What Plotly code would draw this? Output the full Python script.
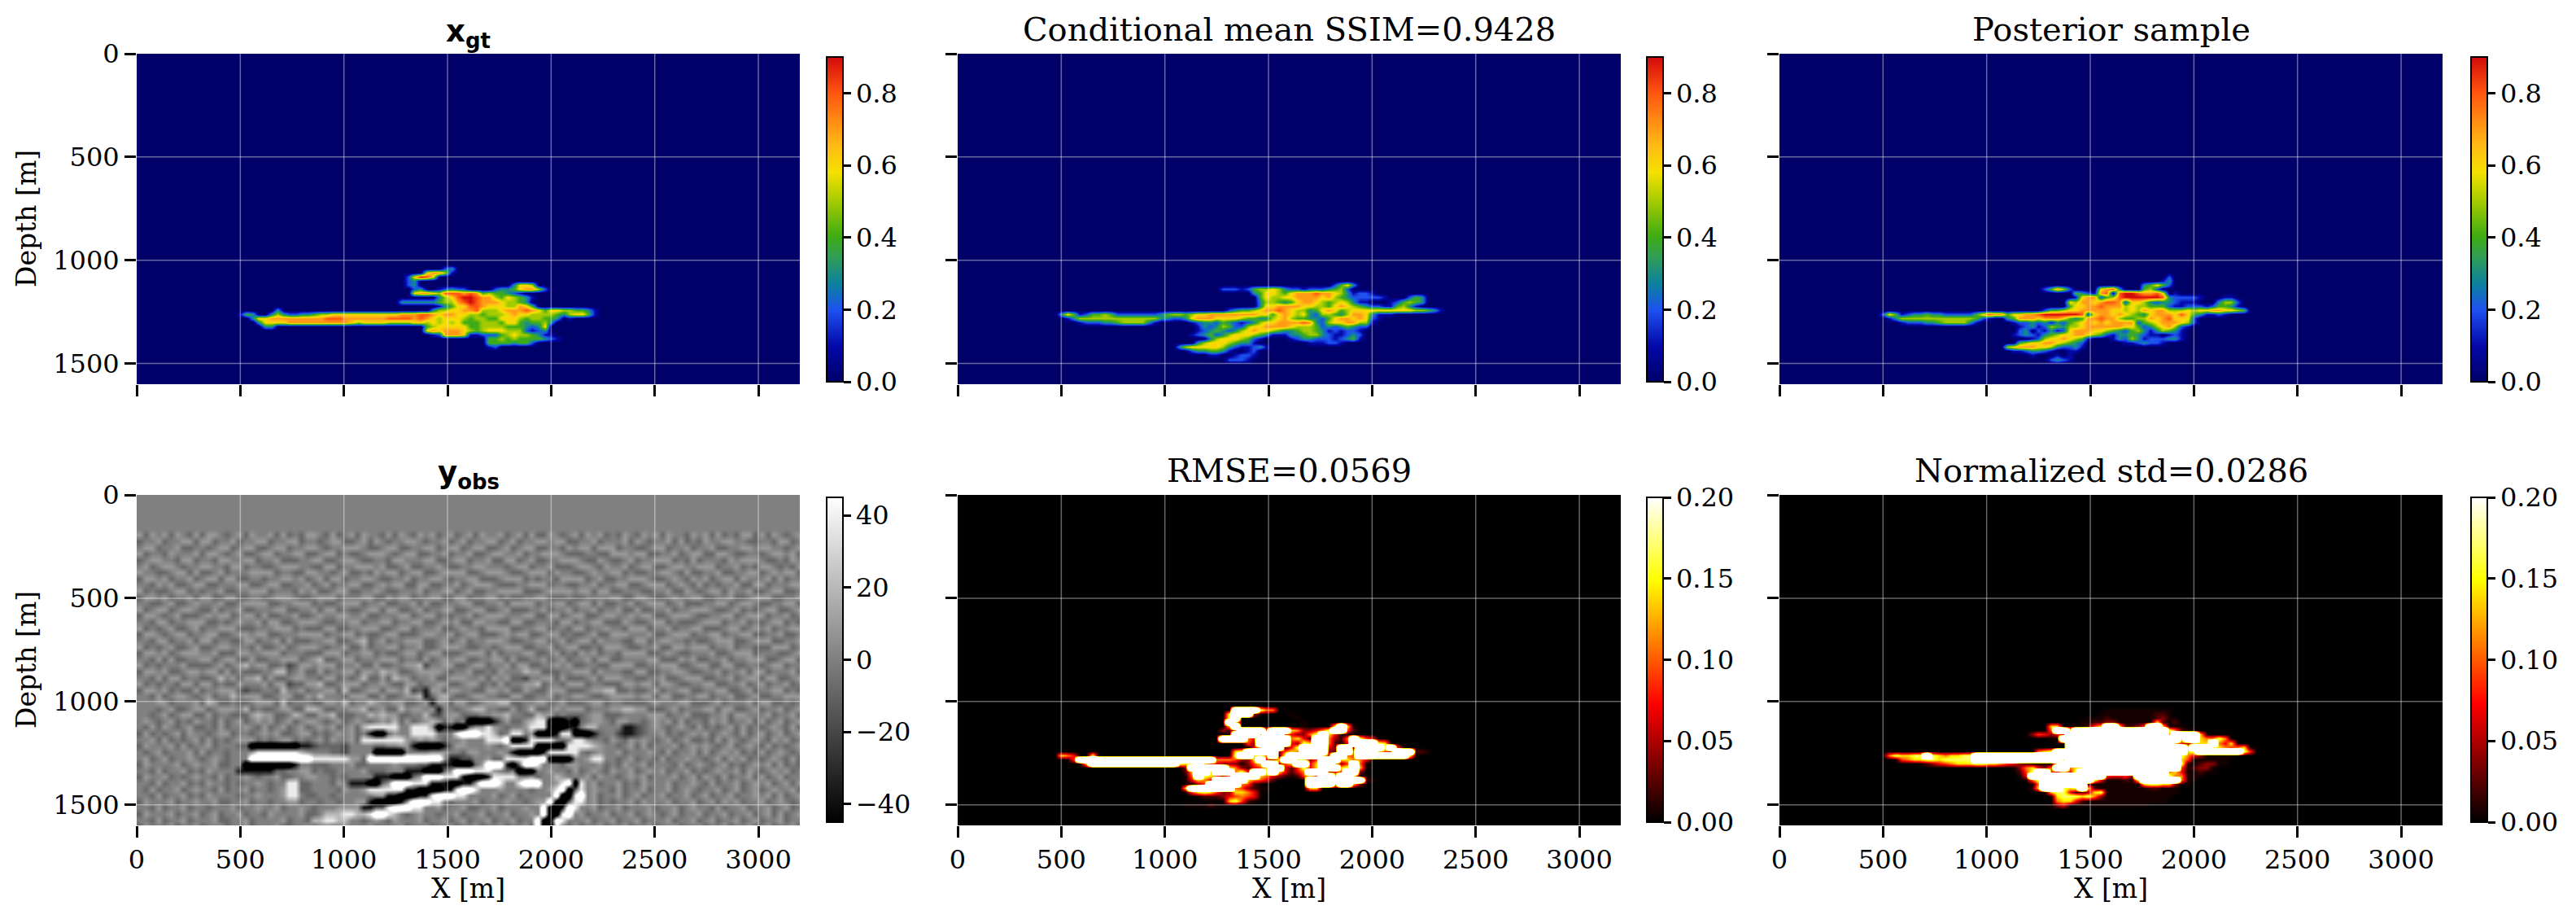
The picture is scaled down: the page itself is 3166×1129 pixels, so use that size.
import numpy as np
import plotly.graph_objects as go

FIG_W = 3166
FIG_H = 1129

X_TICKS = [0, 500, 1000, 1500, 2000, 2500, 3000]
Y_TICKS = [0, 500, 1000, 1500]
CB_XGT_TICKS = [0.0, 0.2, 0.4, 0.6, 0.8]
CB_YOBS_TICKS = [-40, -20, 0, 20, 40]
CB_HOT_TICKS = [0.0, 0.05, 0.1, 0.15, 0.2]

TITLES = ["x_gt", "Conditional mean SSIM=0.9428", "Posterior sample",
          "y_obs", "RMSE=0.0569", "Normalized std=0.0286"]

# plume panels: one char per cell, 30 m wide and 20 m tall, first cell at X=500, Depth=1040
XGT_ROWS = [
    "0000000000 0000000000 0000000000 0002300000",
    "0000000000 0000000000 0000000000 6775100000",
    "0000000000 0000000000 0000000269 8600000000",
    "0000000000 0000000000 0000000230 0000000000",
    "0000000000 0000000000 0000000230 0000000000 0000366500",
    "0000000000 0000000000 0000000023 0012322000 0233467752",
    "0000000000 0000000000 0000000067 7658887874 5443210000",
    "0000000000 0000000000 0000000000 0035689987 7546543100",
    "0000000000 0000000000 0000003333 3345578987 7765543000",
    "0000000000 0000000000 0000000000 0013466887 6665576400",
    "0000003000 0000000000 0000000000 0355667785 5567778764 6655443100",
    "1430035322 3345566666 6666667778 8767766554 5556766555 5435664100",
    "0036677777 7777888777 7777888878 7656665455 4466654554 4301000000",
    "0003666677 7777777765 6666555566 5656564445 5546643445 3000000000",
    "0000330000 0000000000 0000000000 4566666445 5554443236",
    "0000000000 0000000000 0000000000 6767776545 6665552123",
    "0000000000 0000000000 0000000000 0127776112 2245655431 1000000000",
    "0000000000 0000000000 0000000000 0000000000 4454544443 2100000000",
    "0000000000 0000000000 0000000000 0000000000 4444344200",
    "0000000000 0000000000 0000000000 0000000000 1200000000",
]
COND_MEAN_ROWS = [
    "0", "0", "0", "0",
    "0000000000 0000000000 0000000000 0000000000 0000246300",
    "0000000000 0000000000 0000002221 2455653221 2223452000",
    "0000000000 0000000000 0000000000 0346654677 7877653122 1000000000",
    "0000000000 0000000000 0000000000 0046556677 7767543222 2210002430",
    "0000000000 0000000000 0000000000 0035543467 7654565311 0001245430",
    "0000000000 0000000000 0000000000 0036677776 6554676543 2211453100",
    "0000000000 0000000000 0000000234 4567787655 3467645666 6666666554 31",
    "3641244542 2222223455 4566777777 7766467656 3255435776 3111000000",
    "0135555555 5555553322 3677766665 4433567544 3324677676 2100000000",
    "0001222334 5555310000 0123324321 2356677778 7325667755 1000000000",
    "0000000000 0000000000 0013235422 5667777655 5423234322",
    "0000000000 0000000000 0012343235 6766543345 5431212210",
    "0000000000 0000000000 0123423566 6543111334 5532112320",
    "0000000000 0000000000 0000356665 4210000123 3222123410",
    "0000000000 0000000000 0035666543 3100000000 1112210000",
    "0000000000 0000000003 5666665321 1231000000",
    "0000000000 0000000000 0233443100 1200000000",
    "0000000000 0000000000 0000110012 2100000000",
    "0000000000 0000000000 0000000222 1000000000",
]
POSTERIOR_ROWS = [
    "0", "0",
    "0000000000 0000000000 0000000000 0000000000 0000002000",
    "0000000000 0000000000 0000000000 0000000000 0000013000",
    "0000000000 0000000000 0000000000 0000000000 0034642000",
    "0000000000 0000000000 0000002475 2000067830 0045200000",
    "0000000000 0000000000 0000000000 0432178089 9877860100",
    "0000000000 0000000000 0000000000 0167724589 9999983222 2100011000",
    "0000000000 0000000000 0000000000 6577678872 6653233211 1000355200",
    "0000000000 0000000000 0000000000 4667787775 6554442112 2212443100",
    "0000000000 0000000000 0000002445 6677777665 6576775556 5667766540",
    "2641233433 2222246877 4667789999 9982677676 5436777686 4311210000",
    "0135555555 5555542100 3477767776 4347787754 4557678666 2000000000",
    "0001222334 5555310000 0122323132 4567676777 7245677765 2000000000",
    "0000000000 0000000000 0012312543 5567777776 6423567521",
    "0000000000 0000000000 0023021312 6777665432 4531354310",
    "0000000000 0000000000 0123213456 6776542133 4321101210",
    "0000000000 0000000000 0000125667 6541000132 5312223310",
    "0000000000 0000000000 0045667765 4320000001 1232210000",
    "0000000000 0000000000 5677766532 2310000000",
    "0000000000 0000000000 0112332100 1100000000",
    "0000000000 0000000000 0000100010 1000000000",
    "0000000000 0000000000 0000000232 1000000000",
]
# hot panels, chars index HOT_LEVELS, 9 is far past the top of the colour scale
RMSE_ROWS = [
    "0000000000 0000000000 0000000099 9986600000",
    "0000000000 0000000000 0000000899 9311000100",
    "0000000000 0000000000 0000001890 0000000010",
    "0000000000 0000000000 0000000980 0000000001",
    "0000000000 0000000000 0000000790 0000000001 0000897100",
    "0000000000 0000000000 0000003269 9996999763 3468995200",
    "0000000000 0000000000 0000000099 9969995433 6897411000",
    "0000000000 0000000000 0000009999 6499999674 2996326985 4000000000",
    "0000000000 0000000000 0000000000 5399899438 7996214999 9871000000",
    "0000000000 0000000000 0000000000 1479992489 9994399199 9989510000",
    "0000010000 0000000000 0000000078 9999935769 9993299699 9754999221",
    "7640080000 0000000000 0000000189 9786928999 9984996599 9999998000",
    "0159999999 9999999999 9999966653 3794379978 3599977664 1000000000",
    "0000799999 9999999998 7897543331 3579935799 4799735961 0000000000",
    "0000000000 0000000000 3999999763 2457994258 4799978971",
    "0000000000 0000000000 2799799968 4998974246 9993459930",
    "0000000000 0000000000 1698753699 9976432125 7599799811",
    "0000000000 0000000000 1476499999 7654200000 9979999992 1000000000",
    "0000000000 0000000000 1135999996 5210000000 9999799730",
    "0000000000 0000000000 7999999965 3211000000 7700000000",
    "0000000000 0000000000 1578753377 6410000000 0000000000",
    "0000000000 0000000000 0012223456 5410000000",
    "0000000000 0000000000 0000000785 2100000000",
    "0000000000 0000000000 1111211100",
]
STD_ROWS = [
    "0000000000 0000000000 0000000000 0000001111 1111111000",
    "0000000000 0000000000 0000000000 0000011111 1111221000",
    "0000000000 0000000000 0000000000 0001112111 1111231100",
    "0000000000 0000000000 0000000000 0011223311 1111721200",
    "0000000000 0000000000 0000000770 1112579972 2359971110",
    "0000000000 0000000000 0000000699 8999999999 9999998621 1000000000",
    "0000000000 0000000000 0000354344 9999999999 9999996999 9710000000",
    "0000000000 0000000000 0000000119 9999999999 9999999989 9766860000",
    "0000000000 0000000000 0000000011 9999999999 9999999743 7779647100",
    "0000000000 0000000000 0000000000 9999999999 9999999998 9998765671",
    "0100000000 0000000000 0000067899 9999999999 9999999997 8999999985",
    "0687788987 6778899999 9999999999 9999999999 9999999986 4311111000",
    "0015677887 8888899999 9999999997 9999999999 9999999975 1111110000",
    "0000001234 5677788776 5432111189 9999999999 9999999981 1233110000",
    "0000000000 0000000000 0136743699 6789999999 9999999951 2331000000",
    "0000000000 0000000000 0025899447 4899999999 9999996741 1211000000",
    "0000000000 0000000000 0014999999 9999995445 3999998661 1100000000",
    "0000000000 0000000000 0001689999 9999841112 1899999961 1000000000",
    "0000000000 0000000000 0000169999 9992111111 1178877311 0000000000",
    "0000000000 0000000000 0000279998 7897211111 1112211100",
    "0000000000 0000000000 0000001788 4223781111 1111111100",
    "0000000000 0000000000 0000000178 8878631111 1111111000",
    "0000000000 0000000000 0000000067 7421111111 1111110000",
    "0000000000 0000000000 0000000134 1111111111 1110000000",
]
HOT_LEVELS = [0.0, 0.006, 0.02, 0.04, 0.07, 0.09, 0.11, 0.14, 0.17, 0.7]

# seismic panel: one char per 30 m x 30 m cell starting at Depth=195, chars index YOBS_LEVELS
YOBS_ROWS = [
    "5354535435 3554345354 4535343554 3534535443 5354354534 5345354453 4535335434 5354534354 3545354435 4535343553 5354345",
    "3445344553 5534453445 5344553443 4553345354 3445543445 3453445534 5344554553 3445344453 5434453534 3544554433 4435534",
    "4553445334 4345534553 3455344554 3445554334 5533445534 5534553345 3455334435 4553555344 3345534453 4453344554 5544345",
    "5344354445 3554345334 5534455334 5534334555 4345533445 3445334554 4534455543 3344335554 5533445345 5335543344 3455453",
    "3455443553 4435544553 4453334455 3345543344 3554445533 4553445335 5345334455 5433543345 3445553435 3444354555 4334354",
    "4534554344 5544355344 3345554433 5534455545 3345334454 3344554443 4553445333 4554354453 4553345544 5553445343 5543435",
    "5443345535 3345344455 5534433554 4345334354 5534553345 5553345554 3345553544 3345445534 3344554353 3445334455 3454553",
    "3554534453 4553553344 3445545345 3553445543 3445344554 3445533345 5534344355 5534533445 5543345435 4534553544 4535344",
    "4435453345 5334445533 4553344534 5344553345 4553355334 4534555433 3445553443 3445344553 3455534543 5343445335 5344455",
    "5343345534 3445334455 5344435453 3455334454 3344453445 5345334455 5533345555 4553553344 4334453354 3455354453 3455334",
    "3554534453 5533553344 3455543345 5534445533 5455344553 3553445534 3344553334 3344445533 5543345445 5334453345 5533445",
    "4433453345 4445334555 5334455534 3345553445 3344535334 4455334453 5555344553 4553533445 3455534533 3445534554 3344553",
    "5345534554 3353445334 4455334453 5534334553 5533453445 5334553345 3334453445 3445344533 5334453445 5543345343 4553345",
    "3554345333 4545534553 5334453345 4455445334 4455345534 3445345554 4455335534 5533455445 4553345554 3344553455 5344534",
    "4435534455 5334345445 3553345554 3344553445 5344553345 4533554433 5533444355 3445533354 3345534333 4555344534 3455343",
    "5343453345 3445553334 4455534333 5533445553 3455344453 3454435555 3344553443 5534454435 5534453445 5333455345 4534455",
    "3554345534 4553345545 5334445555 3445534334 5533345544 5345533345 4553345534 3345335554 4453345553 4455344553 3445334",
    "4435534453 5534433553 4453533344 5533456345 3445553345 3453445554 3344553453 4553544433 5534554434 3345553345 5533445",
    "5343453345 3345544435 3345345554 3445335344 5534453345 5543344345 5533445345 5334355543 3445335545 5534453443 3355534",
    "3554534555 4453335544 5553444333 5553445534 3345534553 3345553534 4455334534 3545344355 5533454334 4453345553 4443345",
    "4435353344 5534553353 3445553456 3345534445 5534435345 4553344553 5334453453 4453553344 4455333545 3344534455 5334553",
    "5343444533 3345345645 5334235545 5534453353 3445562445 5334553445 3553344545 3344335555 3344555334 5533553344 3455344",
    "3554533455 4553534333 4466345335 3445535546 5533455554 3445334354 4465533344 5553544433 5533445543 3445344535 5344453",
    "4435355344 3346453556 3533455443 5534346335 3655344533 5554453545 3324455353 3345355544 3344533455 5334453455 3553345",
    "5343443553 5534335444 5355233556 3345553445 4335534455 3345534353 4455634435 5534433355 4553554334 4553344534 5344534",
    "3554534335 3445553233 4436445344 5536334553 5546231553 5544335545 3354335553 3345566334 3345344553 3445533453 4455343",
    "4435345543 4534464555 3345533546 4443555335 3345561356 4334554433 5533445344 5543345555 4553553344 5534453345 3344555",
    "4445534445 3653343345 5536344433 5546344654 4553345155 3553345566 3344553453 3345534433 3345444553 3345344453 5533434",
    "4443453345 5345554634 3345533665 3344556345 3364554514 4345664433 5346334545 5534445566 5533345344 4553553345 3445345",
    "4434534553 3534433356 5533465335 5633344656 5533446324 5533344556 4433655343 3345533344 4455534453 3344535544 4534453",
]
YOBS_ROWS += [
    "4543453435 4435345345 4534534554 3453454345 4635345653 5340000135 3356770001 0345543554 4345453534 4354534453 5345345",
    "4353543453 3435344543 5345345345 4534536777 7744777501 1003557543 4457770001 1466444411 2345434543 5343453534 3454353",
    "3534345354 4345534434 5453345534 3454534100 3544777744 4788877634 7745000177 0001344211 2344534345 4534543534 5345345",
    "4453534345 3534345553 4345534345 3544537777 7775454543 4454447778 0017777434 7754435435 4543453453 3435354345 4354534",
    "3544453534 4534443300 0000001123 3332444433 4455100001 3554445435 7777000007 7776544345 3534445345 4543453454 3534345",
    "4345344453 5344344457 7777776544 4332444400 0004444555 4435544454 1000017777 7434544534 4454353445 3534545343 5345434",
    "4534534454 3454344488 8888888877 7777553888 8888888885 1122445337 7778880000 4457744345 3443534454 4345354534 3454353",
    "3544445345 4453344000 0000014433 3444533444 4544433111 1000358881 0388744435 5444534354 4534443534 5434534345 4535343",
    "4435344534 3544441111 1133445534 3344445333 4441110003 5888777543 4000445443 5345435445 3454534453 4345445354 3454534",
    "3544534345 4435344543 4453344554 4343444411 1000358887 7710001777 7445344654 4453544345 4534445345 3543534453 5345344",
    "4435344534 3544343445 4344773344 4354111003 5888777111 0011588874 4788844578 0745344534 3544453445 4353445345 4534535",
    "4353445345 4435344534 4345773344 4435445777 7771100001 1788744454 4443445780 3745443534 4534453454 3445345345 3454453",
    "4435344534 3544443445 4445774334 4344444455 1100011788 8774444534 5344444800 7845344534 5344534453 4534453445 4535345",
    "3544453445 4453344534 4344553443 4434455100 0015888774 3444534445 4434558003 7745343445 3544453445 3453545344 5345434",
    "4435344534 4344453445 4453445434 4455551133 7888774453 4453344534 4454480018 7445344534 4453445345 4435344534 4534534",
    "3544453445 3453445344 3544445334 6667766788 7643454434 4534453445 3445480078 4534453445 3454345344 5344534453 4535345",
    "4435344534 4453344534 4445344366 7766443454 3544453445 3453445344 5344800874 4453445344 5344453445 3453445345 3445344",
    "3544453445 3445344534 4453344534 4345444534 4453445344 5344534453 4453800743 5344534453 4453445344 5344534453 4534453",
]
YOBS_LEVELS = [-75, -38, -20, -9, 0, 9, 20, 38, 75]


def cells(rows, width, fill):
    grid = []
    for row in rows:
        row = row.replace(" ", "")
        grid.append([int(c) for c in row.ljust(width, fill)[:width]])
    return np.array(grid, dtype=int)


# full grid for the plume panels, the rows above are dropped into it
plume_x = np.arange(-10, 3231, 30)
plume_y = np.arange(0, 1601, 20)
plume_i0 = int(np.searchsorted(plume_x, 500))
plume_j0 = int(np.searchsorted(plume_y, 1040))


def plume(rows, levels):
    block = np.array(levels)[cells(rows, 64, "0")]
    z = np.zeros((len(plume_y), len(plume_x)))
    z[plume_j0:plume_j0 + block.shape[0], plume_i0:plume_i0 + block.shape[1]] = block
    return z


yobs_x = np.arange(15, 3225, 30)
yobs_y = np.arange(15, 1620, 30)
yobs_z = np.zeros((len(yobs_y), len(yobs_x)))
yobs_z[6:6 + len(YOBS_ROWS)] = np.array(YOBS_LEVELS)[cells(YOBS_ROWS, len(yobs_x), "4")]

JET_LEVELS = [0.0, 0.1, 0.2, 0.3, 0.4, 0.5, 0.6, 0.7, 0.8, 0.9]
JET_LIKE = [
    [0.0, "#000068"], [0.11, "#0408a8"], [0.22, "#1e50f0"], [0.30, "#0c80a0"],
    [0.39, "#32a050"], [0.445, "#3cab14"], [0.56, "#a8cc00"], [0.645, "#f5e000"],
    [0.72, "#ffbe14"], [0.78, "#ff9a14"], [0.89, "#ff5510"], [1.0, "#d20a0a"],
]
HOT = [
    [0.0, "#000000"], [0.365, "#ff0000"], [0.746, "#ffff00"], [1.0, "#ffffff"],
]
GRAY = [[0.0, "#000000"], [1.0, "#ffffff"]]

FONT = "DejaVu Serif"
TICK_SIZE = 32
LABEL_SIZE = 33
TITLE_SIZE = 40
BOLD_TITLE_SIZE = 37

# pixel boxes of the panels, colorbars sit right of them
PANEL_LEFT = [168, 1177, 2187]
PANEL_W = 815
ROW_TOP = [66, 608]
PANEL_H = 406
CB_LEFT = [1016, 2024, 3037]
CB_W = 20
CB_TOP = [70, 611]
CB_H = 399

panels = [
    (plume_x, plume_y, plume(XGT_ROWS, JET_LEVELS), JET_LIKE, 0.0, 0.9, CB_XGT_TICKS, "%.1f"),
    (plume_x, plume_y, plume(COND_MEAN_ROWS, JET_LEVELS), JET_LIKE, 0.0, 0.9, CB_XGT_TICKS, "%.1f"),
    (plume_x, plume_y, plume(POSTERIOR_ROWS, JET_LEVELS), JET_LIKE, 0.0, 0.9, CB_XGT_TICKS, "%.1f"),
    (yobs_x, yobs_y, yobs_z, GRAY, -45, 45, CB_YOBS_TICKS, "%d"),
    (plume_x, plume_y, plume(RMSE_ROWS, HOT_LEVELS), HOT, 0.0, 0.2, CB_HOT_TICKS, "%.2f"),
    (plume_x, plume_y, plume(STD_ROWS, HOT_LEVELS), HOT, 0.0, 0.2, CB_HOT_TICKS, "%.2f"),
]

fig = go.Figure()
layout = {}
shapes = []
annotations = []
label_font = dict(family=FONT, size=LABEL_SIZE, color="black")

for n, (x, y, z, scale, zmin, zmax, cb_ticks, fmt) in enumerate(panels):
    row, col = divmod(n, 3)
    sfx = "" if n == 0 else str(n + 1)
    if fmt == "%d":
        cb_text = [str(t).replace("-", "\u2212") for t in cb_ticks]
    else:
        cb_text = [fmt % t for t in cb_ticks]
    fig.add_trace(go.Heatmap(
        x=x, y=y, z=z, xaxis="x" + sfx, yaxis="y" + sfx,
        colorscale=scale, zmin=zmin, zmax=zmax, zsmooth="best",
        colorbar=dict(
            x=CB_LEFT[col] / FIG_W, xanchor="left", xpad=0,
            y=1 - CB_TOP[row] / FIG_H, yanchor="top", ypad=0,
            len=CB_H, lenmode="pixels", thickness=CB_W, thicknessmode="pixels",
            outlinewidth=2, outlinecolor="black",
            ticks="outside", ticklen=9, tickwidth=3, tickcolor="black",
            tickvals=cb_ticks, ticktext=cb_text,
            tickfont=dict(family=FONT, size=TICK_SIZE, color="black"),
        ),
    ))
    layout["xaxis" + sfx] = dict(
        domain=[PANEL_LEFT[col] / FIG_W, (PANEL_LEFT[col] + PANEL_W) / FIG_W],
        anchor="y" + sfx, range=[0, 3200], showgrid=False, zeroline=False,
        showline=False, ticks="outside", ticklen=14, tickwidth=3, tickcolor="black",
        tickvals=X_TICKS, showticklabels=row == 1,
        tickfont=dict(family=FONT, size=TICK_SIZE, color="black"),
    )
    layout["yaxis" + sfx] = dict(
        domain=[1 - (ROW_TOP[row] + PANEL_H) / FIG_H, 1 - ROW_TOP[row] / FIG_H],
        anchor="x" + sfx, range=[1600, 0], showgrid=False, zeroline=False,
        showline=False, ticks="outside", ticklen=14, tickwidth=3, tickcolor="black",
        tickvals=Y_TICKS, showticklabels=col == 0,
        tickfont=dict(family=FONT, size=TICK_SIZE, color="black"),
    )
    # grid sits on top of the image, plotly axis grids stay under it
    for t in X_TICKS[1:]:
        shapes.append(dict(type="line", xref="x" + sfx, yref="y" + sfx, x0=t, x1=t, y0=0, y1=1600,
                           line=dict(color="rgba(255,255,255,0.4)", width=1.5), layer="above"))
    for t in Y_TICKS[1:]:
        shapes.append(dict(type="line", xref="x" + sfx, yref="y" + sfx, x0=0, x1=3200, y0=t, y1=t,
                           line=dict(color="rgba(255,255,255,0.4)", width=1.5), layer="above"))
    title = TITLES[n]
    title_font = dict(family=FONT, size=TITLE_SIZE, color="black")
    lift = 30
    if "_" in title:
        base, sub = title.split("_")
        title = "<b>%s<sub>%s</sub></b>" % (base, sub)
        title_font = dict(family="DejaVu Sans", size=BOLD_TITLE_SIZE, color="black")
        lift = 25
    annotations.append(dict(
        text=title, font=title_font, showarrow=False,
        xref="paper", yref="paper", xanchor="center", yanchor="middle",
        x=(PANEL_LEFT[col] + PANEL_W / 2) / FIG_W, y=1 - (ROW_TOP[row] - lift) / FIG_H,
    ))
    if row == 1:
        annotations.append(dict(
            text="X [m]", font=label_font, showarrow=False,
            xref="paper", yref="paper", xanchor="center", yanchor="middle",
            x=(PANEL_LEFT[col] + PANEL_W / 2) / FIG_W, y=1 - 1091 / FIG_H,
        ))
    if col == 0:
        annotations.append(dict(
            text="Depth [m]", font=label_font, showarrow=False, textangle=-90,
            xref="paper", yref="paper", xanchor="center", yanchor="middle",
            x=32 / FIG_W, y=1 - (ROW_TOP[row] + PANEL_H / 2) / FIG_H,
        ))

fig.update_layout(
    width=FIG_W, height=FIG_H, margin=dict(l=0, r=0, t=0, b=0, autoexpand=False),
    paper_bgcolor="white", plot_bgcolor="white",
    shapes=shapes, annotations=annotations, **layout,
)

# page body margin would push the plot 8 px in
fig.write_html("out.html", config={"displayModeBar": False},
               post_script="document.body.style.margin = '0';")
